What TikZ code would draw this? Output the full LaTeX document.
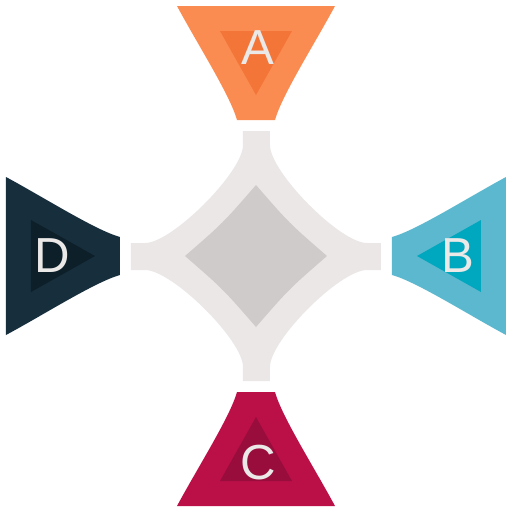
\documentclass[tikz,border=0pt]{standalone}
\usepackage{fontspec}
\setmainfont{Liberation Sans}

\definecolor{naranja}{RGB}{250,140,82}
\definecolor{naranjaosc}{RGB}{244,117,56}
\definecolor{turquesa}{RGB}{92,184,206}
\definecolor{turquesaosc}{RGB}{0,168,191}
\definecolor{granate}{RGB}{187,15,72}
\definecolor{granateosc}{RGB}{153,13,61}
\definecolor{marino}{RGB}{23,46,61}
\definecolor{marinoosc}{RGB}{13,31,41}
\definecolor{grisclaro}{RGB}{234,231,230}
\definecolor{grismedio}{RGB}{207,203,203}
\definecolor{letragris}{RGB}{235,232,232}

\begin{document}
\begin{tikzpicture}[x=0.02cm, y=-0.02cm,
    letra/.style={text=letragris, inner sep=0pt, font=\fontsize{28}{30}\selectfont}]

    \useasboundingbox (0,0) rectangle (512,512);

    % Figura central
    \fill[grisclaro] (243,131) -- (270,131) -- (270,145)
      .. controls (270,172) and (340,243) .. (367,243) -- (381,243) -- (381,270) -- (367,270)
      .. controls (340,270) and (270,340) .. (270,367) -- (270,381) -- (243,381) -- (243,367)
      .. controls (243,340) and (172,270) .. (145,270) -- (131,270) -- (131,243) -- (145,243)
      .. controls (172,243) and (243,172) .. (243,145) -- cycle;
    \fill[grismedio] (256,185) .. controls (223,223) .. (185,256)
      .. controls (223,289) .. (256,327) .. controls (289,289) .. (327,256)
      .. controls (289,223) .. (256,185) -- cycle;

    % Pieza superior
    \fill[naranja] (177,6) -- (335,6) .. controls (314,45) and (282,95) .. (275,120)
      -- (237,120) .. controls (230,95) and (198,45) .. (177,6) -- cycle;
    \fill[naranjaosc] (220,31) -- (292,31) -- (256,95) -- cycle;

    % Pieza derecha
    \fill[turquesa] (506,177) -- (506,335) .. controls (467,314) and (417,282) .. (392,275)
      -- (392,237) .. controls (417,230) and (467,198) .. (506,177) -- cycle;
    \fill[turquesaosc] (481,220) -- (481,292) -- (417,256) -- cycle;

    % Pieza inferior
    \fill[granate] (177,506) -- (335,506) .. controls (314,467) and (282,417) .. (275,392)
      -- (237,392) .. controls (230,417) and (198,467) .. (177,506) -- cycle;
    \fill[granateosc] (220,481) -- (292,481) -- (256,417) -- cycle;

    % Pieza izquierda
    \fill[marino] (6,177) -- (6,335) .. controls (45,314) and (95,282) .. (120,275)
      -- (120,237) .. controls (95,230) and (45,198) .. (6,177) -- cycle;
    \fill[marinoosc] (31,220) -- (31,292) -- (95,256) -- cycle;

    % Letras
    \node[letra] (a) at (258,48) {A};
    \node[letra] (b) at (458,256) {B};
    \node[letra] (c) at (258,463) {C};
    \node[letra] (d) at (52,256) {D};

  \end{tikzpicture}
\end{document}
